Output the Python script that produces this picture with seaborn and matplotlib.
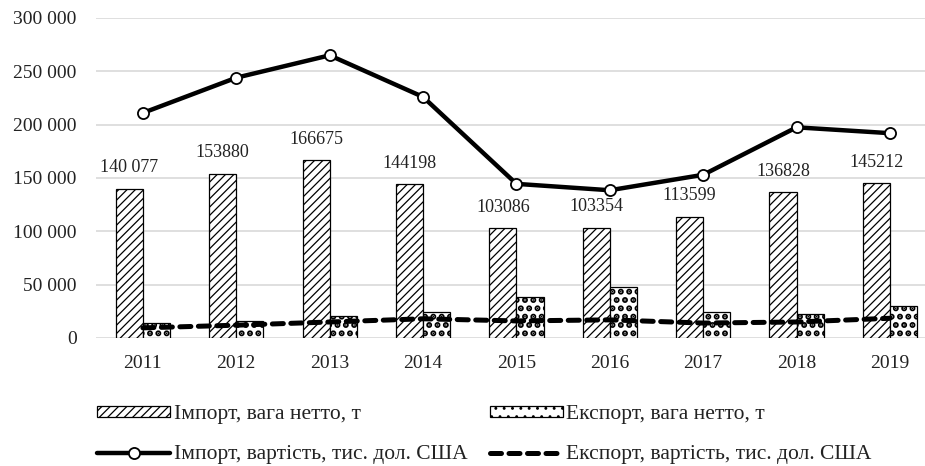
import numpy as np
import pandas as pd
import matplotlib
matplotlib.use("Agg")
import matplotlib.pyplot as plt
import seaborn as sns
from matplotlib.ticker import FuncFormatter, MultipleLocator
from matplotlib.patches import Patch
from matplotlib.lines import Line2D

years = ["2011", "2012", "2013", "2014", "2015", "2016", "2017", "2018", "2019"]
import_weight = [140077, 153880, 166675, 144198, 103086, 103354, 113599, 136828, 145212]
export_weight = [14000, 16000, 20500, 24000, 38500, 48000, 24000, 22500, 30000]
import_value = [211000, 244000, 265000, 226000, 144500, 138500, 153000, 197500, 192000]
export_value = [9500, 12000, 15000, 18000, 16000, 17000, 14000, 15000, 18500]
bar_labels = ["140 077", "153880", "166675", "144198", "103086", "103354", "113599", "136828", "145212"]
series_names = ["Імпорт, вага нетто, т", "Експорт, вага нетто, т",
                "Імпорт, вартість, тис. дол. США", "Експорт, вартість, тис. дол. США"]

sns.set_theme(style="white")
plt.rcParams["font.family"] = ["Liberation Serif", "DejaVu Serif"]
plt.rcParams["hatch.linewidth"] = 0.9
plt.rcParams["hatch.color"] = "black"

fig = plt.figure(figsize=(9.25, 4.66), dpi=100)
ax = fig.add_axes([0.104, 0.2747, 0.9086, 0.6867])

df = pd.DataFrame({
    "year": years * 2,
    "series": [series_names[0]] * len(years) + [series_names[1]] * len(years),
    "value": import_weight + export_weight,
})

sns.barplot(data=df, x="year", y="value", hue="series", hue_order=series_names[:2],
            palette=["white", "white"], edgecolor="black", linewidth=0.9,
            width=0.58, gap=0, legend=False, ax=ax, zorder=2)
hatches = ["////", ".."]
hatch_lw = [0.9, 3.0]
for cont, h, hl in zip(ax.containers, hatches, hatch_lw):
    for p in cont:
        p.set_hatch(h)
        if hasattr(p, "set_hatch_linewidth"):
            p.set_hatch_linewidth(hl)

xpos = np.arange(len(years))
DASH = (2.2, 1.5)
sns.lineplot(x=xpos, y=import_value, color="black", linewidth=3.2, marker="o",
             markersize=8, markerfacecolor="white", markeredgecolor="black",
             markeredgewidth=1.3, ax=ax, zorder=4)
sns.lineplot(x=xpos, y=export_value, color="black", linewidth=3.6,
             ax=ax, zorder=3)
ax.lines[-1].set_dashes(DASH)
ax.lines[-1].set_dash_capstyle("round")

imp_cont = ax.containers[0]
for p, lab in zip(imp_cont, bar_labels):
    ax.annotate(lab, (p.get_x() + p.get_width() / 2, p.get_height()),
                xytext=(0, 9), textcoords="offset points", ha="center", va="bottom",
                fontsize=13, color="#222222")

ax.set_ylim(0, 300000)
ax.set_xlim(-0.5, len(years) - 0.5)
ax.yaxis.set_major_locator(MultipleLocator(50000))
ax.yaxis.set_major_formatter(FuncFormatter(lambda v, _: f"{int(v):,}".replace(",", " ")))
ax.grid(axis="y", color="#d9d9d9", linewidth=1.2)
ax.set_axisbelow(True)
for s in ax.spines.values():
    s.set_visible(False)
ax.set_xlabel("")
ax.set_ylabel("")
ax.tick_params(axis="both", length=0, labelsize=14, colors="#222222")
ax.tick_params(axis="x", pad=12)
ax.tick_params(axis="y", pad=14)

p1 = Patch(facecolor="white", edgecolor="black", hatch="////", linewidth=0.9)
p2 = Patch(facecolor="white", edgecolor="black", hatch="..", linewidth=0.9)
if hasattr(p2, "set_hatch_linewidth"):
    p2.set_hatch_linewidth(3.0)
handles = [
    p1,
    Line2D([], [], color="black", linewidth=3.2, marker="o", markersize=8,
           markerfacecolor="white", markeredgecolor="black", markeredgewidth=1.3),
    p2,
    Line2D([], [], color="black", linewidth=3.6, dashes=DASH, dash_capstyle="round"),
]
labels = [series_names[0], series_names[2], series_names[1], series_names[3]]
fig.legend(handles, labels, ncol=2, loc="upper left", bbox_to_anchor=(0.105, 0.131),
           frameon=False, fontsize=15.5, handlelength=3.4, handleheight=0.4,
           handletextpad=0.15, columnspacing=1.05, labelspacing=1.0, borderpad=0,
           borderaxespad=0, labelcolor="#222222")

fig.savefig("out.png", dpi=100)
